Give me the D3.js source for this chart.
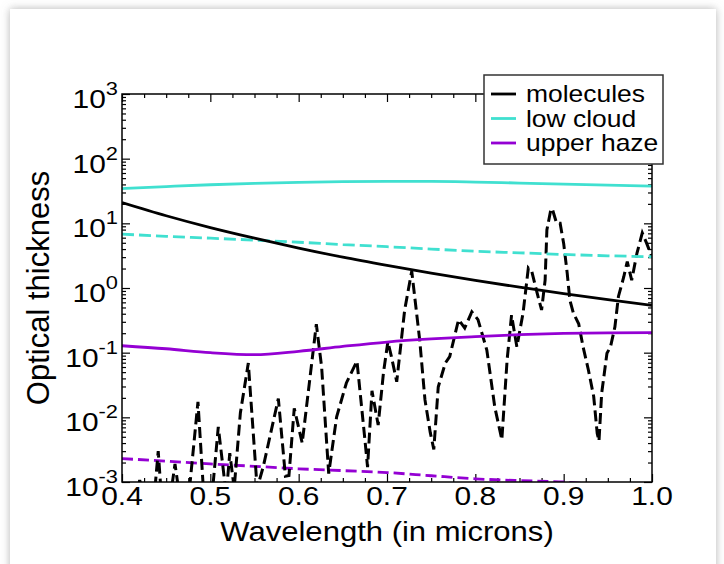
<!DOCTYPE html>
<html>
<head>
<meta charset="utf-8">
<script src="https://cdn.jsdelivr.net/npm/d3@7/dist/d3.min.js"></script>
<style>
  body { margin: 0; background: #fff; }
  svg { display: block; font-family: "Liberation Sans", Arial, sans-serif; }
</style>
</head>
<body>
<svg id="chart" width="724" height="564"></svg>
<script>
// smooth curves, sampled every 0.05 micron
var lambdaGrid = [0.40, 0.45, 0.50, 0.55, 0.60, 0.65, 0.70, 0.75, 0.80, 0.85, 0.90, 0.95, 1.00];
var molecules = [21, 13.1, 8.6, 5.9, 4.15, 3.0, 2.24, 1.70, 1.31, 1.03, 0.82, 0.66, 0.54];
var lowCloud = [34.5, 37, 39.5, 41.5, 43, 44, 44.5, 44.5, 43.5, 42, 40.5, 39, 37.5];
var lowCloudDash = [6.8, 6.3, 5.9, 5.5, 5.1, 4.7, 4.35, 4.0, 3.7, 3.5, 3.3, 3.15, 3.05];
var upperHaze = [0.128, 0.115, 0.100, 0.093, 0.105, 0.125, 0.146, 0.163, 0.177, 0.19, 0.199, 0.203, 0.204];
var upperHazeDash = [0.0023, 0.0021, 0.0019, 0.00175, 0.0016, 0.0015, 0.0014, 0.00125, 0.00112, 0.00105, 0.001, 0.00088, 0.0008];

// black dashed absorption curve (read point by point)
var gasLambda = [0.400, 0.416, 0.420, 0.427, 0.436, 0.441, 0.445, 0.454, 0.460, 0.466, 0.475, 0.486, 0.493,
  0.502, 0.509, 0.518, 0.522, 0.527, 0.534, 0.543, 0.553, 0.560, 0.577, 0.585, 0.589, 0.595, 0.604, 0.620,
  0.626, 0.634, 0.643, 0.654, 0.666, 0.675, 0.678, 0.683, 0.690, 0.696, 0.701, 0.705, 0.711, 0.720, 0.728,
  0.737, 0.743, 0.749, 0.753, 0.758, 0.766, 0.771, 0.781, 0.788, 0.796, 0.803, 0.813, 0.822, 0.830, 0.836,
  0.841, 0.847, 0.854, 0.860, 0.864, 0.870, 0.875, 0.879, 0.881, 0.885, 0.887, 0.892, 0.896, 0.900, 0.904,
  0.907, 0.911, 0.917, 0.922, 0.928, 0.934, 0.938, 0.940, 0.943, 0.949, 0.953, 0.958, 0.962, 0.968, 0.972,
  0.977, 0.983, 0.989, 0.994, 1.000];
var gasTau = [0.0005, 0.0005, 0.00107, 0.0005, 0.0005, 0.0030, 0.0005, 0.0005, 0.0019, 0.0005, 0.0005, 0.0174, 0.0005,
  0.00063, 0.0071, 0.00063, 0.0028, 0.0008, 0.0117, 0.069, 0.0008, 0.00174, 0.0195, 0.00123, 0.00126, 0.0138, 0.0040, 0.275,
  0.060, 0.00135, 0.0102, 0.034, 0.074, 0.0045, 0.0017, 0.0257, 0.0076, 0.049, 0.148, 0.087, 0.0355, 0.457, 1.82,
  0.158, 0.0186, 0.0058, 0.0032, 0.0295, 0.069, 0.087, 0.324, 0.24, 0.427, 0.324, 0.110, 0.0145, 0.0045, 0.078,
  0.38, 0.123, 0.407, 2.04, 1.78, 0.83, 0.457, 1.32, 7.9, 15.1, 17.0, 10.0, 10.0, 4.9, 1.70,
  0.65, 0.41, 0.28, 0.123, 0.054, 0.021, 0.0056, 0.0043, 0.0234, 0.098, 0.123, 0.25, 0.74, 1.48, 2.57,
  1.32, 3.47, 7.1, 4.9, 3.0];

var xTicks = [0.4, 0.5, 0.6, 0.7, 0.8, 0.9, 1.0];
var xTickLabels = ["0.4", "0.5", "0.6", "0.7", "0.8", "0.9", "1.0"];
var yExponents = [-3, -2, -1, 0, 1, 2, 3];
var legendLabels = ["molecules", "low cloud", "upper haze"];

var black = "#000", cyan = "#40e0d0", violet = "#9400d3";
var legendColors = [black, cyan, violet];

var svg = d3.select("#chart");
var plot = { left: 122, right: 652, top: 94, bottom: 482 };

var xscale = d3.scaleLinear().domain([0.4, 1.0]).range([plot.left, plot.right]);
var yscale = d3.scaleLog().domain([1e-3, 1e3]).range([plot.bottom, plot.top]);

// card with soft shadow
var defs = svg.append("defs");
var shadow = defs.append("filter").attr("id", "shadow")
  .attr("x", "-5%").attr("y", "-5%").attr("width", "110%").attr("height", "110%");
shadow.append("feDropShadow").attr("dx", 0).attr("dy", 0).attr("stdDeviation", 4)
  .attr("flood-color", "#777").attr("flood-opacity", 0.55);
defs.append("clipPath").attr("id", "plotclip").append("rect")
  .attr("x", plot.left).attr("y", plot.top)
  .attr("width", plot.right - plot.left).attr("height", plot.bottom - plot.top);

svg.append("rect").attr("x", 10).attr("y", 9).attr("width", 706).attr("height", 600)
  .attr("fill", "#fff").attr("filter", "url(#shadow)");

// minor tick values
var xMinor = d3.range(0, 25).map(function(i){ return 0.4 + i * 0.025; })
  .filter(function(d){ return Math.abs(d * 10 - Math.round(d * 10)) > 1e-6; });
var yMinor = [];
for (var e = -3; e < 3; e++) {
  for (var k = 2; k < 10; k++) yMinor.push(k * Math.pow(10, e));
}
var yMajor = yExponents.map(function(p){ return Math.pow(10, p); });

function tickGroup(axisFn, scale, values, size, tx, ty) {
  var g = svg.append("g").attr("transform", "translate(" + tx + "," + ty + ")")
    .call(axisFn(scale).tickValues(values).tickSize(size).tickFormat(""));
  g.select(".domain").remove();
  g.selectAll("line").attr("stroke", "#000").attr("stroke-width", 1.2);
  return g;
}

// ticks point inward on all four sides
tickGroup(d3.axisBottom, xscale, xTicks, -8, 0, plot.bottom);
tickGroup(d3.axisBottom, xscale, xMinor, -4, 0, plot.bottom);
tickGroup(d3.axisTop, xscale, xTicks, -8, 0, plot.top);
tickGroup(d3.axisTop, xscale, xMinor, -4, 0, plot.top);
tickGroup(d3.axisLeft, yscale, yMajor, -8, plot.left, 0);
tickGroup(d3.axisLeft, yscale, yMinor, -4, plot.left, 0);
tickGroup(d3.axisRight, yscale, yMajor, -8, plot.right, 0);
tickGroup(d3.axisRight, yscale, yMinor, -4, plot.right, 0);

// curves
var line = d3.line()
  .x(function(d){ return xscale(d[0]); })
  .y(function(d){ return yscale(d[1]); });

function series(values) {
  return lambdaGrid.map(function(l, i){ return [l, values[i]]; });
}

var curves = svg.append("g").attr("clip-path", "url(#plotclip)");
var curveDefs = [
  { data: series(upperHazeDash), color: violet, dash: "11,5", width: 2.8, jagged: false },
  { data: gasLambda.map(function(l, i){ return [l, gasTau[i]]; }), color: black, dash: "11,5", width: 3, jagged: true },
  { data: series(lowCloudDash), color: cyan, dash: "12,5", width: 2.8, jagged: false },
  { data: series(upperHaze), color: violet, dash: null, width: 2.8, jagged: false },
  { data: series(lowCloud), color: cyan, dash: null, width: 2.8, jagged: false },
  { data: series(molecules), color: black, dash: null, width: 2.8, jagged: false }
];
curves.selectAll("path.curve").data(curveDefs).enter().append("path")
  .attr("class", "curve")
  .attr("d", function(d){ return line.curve(d.jagged ? d3.curveLinear : d3.curveMonotoneX)(d.data); })
  .attr("fill", "none")
  .attr("stroke", function(d){ return d.color; })
  .attr("stroke-width", function(d){ return d.width; })
  .attr("stroke-dasharray", function(d){ return d.dash; });

// frame
svg.append("rect").attr("x", plot.left).attr("y", plot.top)
  .attr("width", plot.right - plot.left).attr("height", plot.bottom - plot.top)
  .attr("fill", "none").attr("stroke", "#000").attr("stroke-width", 1.5);

var stretch = 1.15;

// x tick labels
svg.selectAll(".xlab").data(xTicks).enter().append("text")
  .attr("class", "xlab")
  .attr("transform", function(d){ return "translate(" + xscale(d) + "," + (plot.bottom + 23) + ") scale(" + stretch + ",1)"; })
  .attr("text-anchor", "middle").attr("font-size", 26)
  .text(function(d, i){ return xTickLabels[i]; });

// y tick labels, 10^n
var ylab = svg.selectAll(".ylab").data(yExponents).enter().append("text")
  .attr("class", "ylab")
  .attr("transform", function(d){ return "translate(118," + (yscale(Math.pow(10, d)) + 14) + ") scale(" + stretch + ",1)"; })
  .attr("text-anchor", "end").attr("font-size", 26);
ylab.append("tspan").text("10");
ylab.append("tspan").attr("dy", -13).attr("font-size", 19)
  .text(function(d){ return d < 0 ? "-" + (-d) : String(d); });

// axis titles
svg.append("text")
  .attr("transform", "translate(" + ((plot.left + plot.right) / 2) + ",541) scale(" + stretch + ",1)")
  .attr("text-anchor", "middle").attr("font-size", 27)
  .text("Wavelength (in microns)");
svg.append("text")
  .attr("transform", "translate(49," + ((plot.top + plot.bottom) / 2) + ") rotate(-90)")
  .attr("text-anchor", "middle").attr("font-size", 31)
  .text("Optical thickness");

// legend
var legend = svg.append("g");
legend.append("rect").attr("x", 484).attr("y", 75).attr("width", 179).attr("height", 89)
  .attr("fill", "#fff").attr("stroke", "#333").attr("stroke-width", 1.5);
var rows = legend.selectAll(".row").data(legendLabels).enter().append("g")
  .attr("class", "row")
  .attr("transform", function(d, i){ return "translate(0," + (94 + i * 24.5) + ")"; });
rows.append("line").attr("x1", 491).attr("x2", 516).attr("y1", 0).attr("y2", 0)
  .attr("stroke", function(d, i){ return legendColors[i]; }).attr("stroke-width", 2.8);
rows.append("text")
  .attr("transform", "translate(526,8) scale(" + stretch + ",1)")
  .attr("font-size", 23)
  .text(function(d){ return d; });
</script>
</body>
</html>
